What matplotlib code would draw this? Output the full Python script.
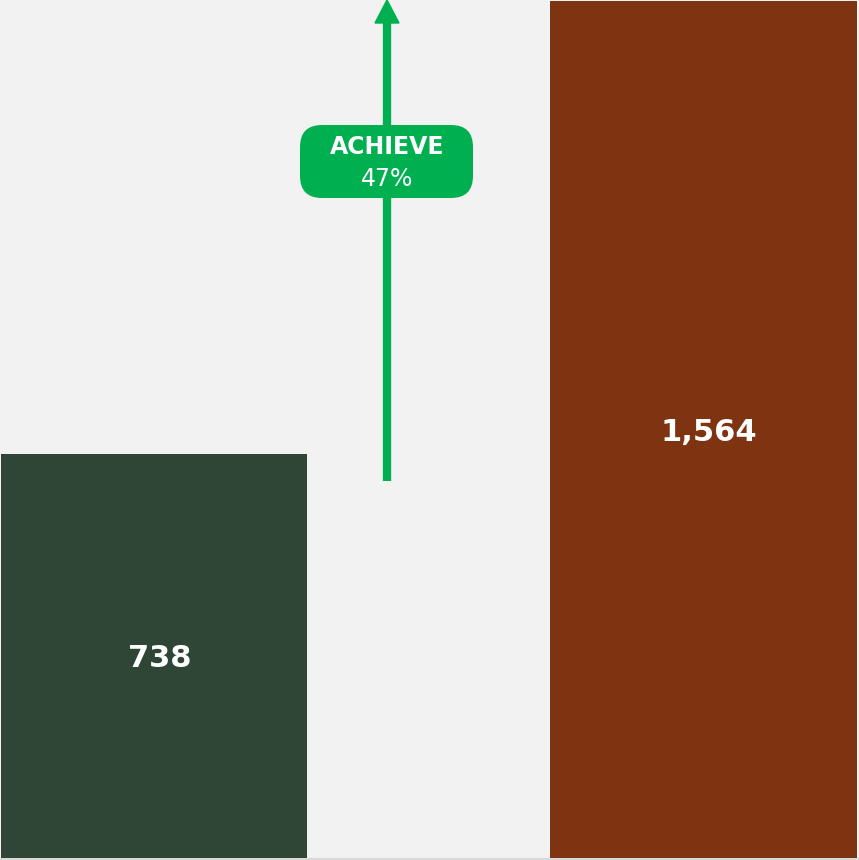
import matplotlib
matplotlib.use("Agg")
import matplotlib.pyplot as plt
from matplotlib.patches import FancyBboxPatch, Polygon
import matplotlib.transforms as mtrans

categories = ["Actual", "Target"]
values = [738, 1564]
value_labels = ["738", "1,564"]
bar_colors = ["#2f4637", "#7f3411"]
badge_title = "ACHIEVE"
badge_value = "47%"
arrow_start = 688

FONT = ["DejaVu Sans"]

fig = plt.figure(figsize=(8.59, 8.60), dpi=100)
fig.patch.set_facecolor("#f2f2f2")
ax = fig.add_axes([0, 0, 1, 1])
ax.set_facecolor("#f2f2f2")

xpos = [0, 1]
ax.bar(xpos, values, width=0.559, color=bar_colors, zorder=2)
ax.set_xlim(-0.2805, 1.284)
ax.set_ylim(-3.65, 1565.8)
ax.axis("off")

ax.axhline(-2.2, color="#d9d9d9", lw=1.6, zorder=1)

for x, v, lab in zip(xpos, values, value_labels):
    ax.text(x + 0.01, v / 2, lab, ha="center", va="center_baseline", color="white",
            fontsize=22, fontweight="bold", family=FONT, zorder=3)

# arrow
ax_x = 0.4244
green = "#00b050"
ax.plot([ax_x, ax_x], [arrow_start, 1530], color=green, lw=6, solid_capstyle="butt", zorder=3)
hx_px = 387
poly = Polygon([[hx_px - 12, 860 - 23], [hx_px + 12, 860 - 23], [hx_px, 860]],
               closed=True, color=green, zorder=3)
poly.set_transform(mtrans.Affine2D())
fig.patches.append(poly)

# badge
r = 22
box = FancyBboxPatch((300 + r, 860 - 198 + r), 173 - 2 * r, 73 - 2 * r,
                     boxstyle=f"round,pad={r},rounding_size={r}",
                     facecolor=green, edgecolor="none", zorder=4)
box.set_transform(mtrans.Affine2D())
fig.patches.append(box)
fig.text(387 / 859, 1 - 144 / 860, badge_title, ha="center", va="center_baseline", color="white",
         fontsize=17, fontweight="bold", family=FONT, zorder=5)
fig.text(387 / 859, 1 - 176 / 860, badge_value, ha="center", va="center_baseline", color="white",
         fontsize=17, family=FONT, zorder=5)

fig.savefig("out.png", dpi=100, facecolor=fig.get_facecolor())
